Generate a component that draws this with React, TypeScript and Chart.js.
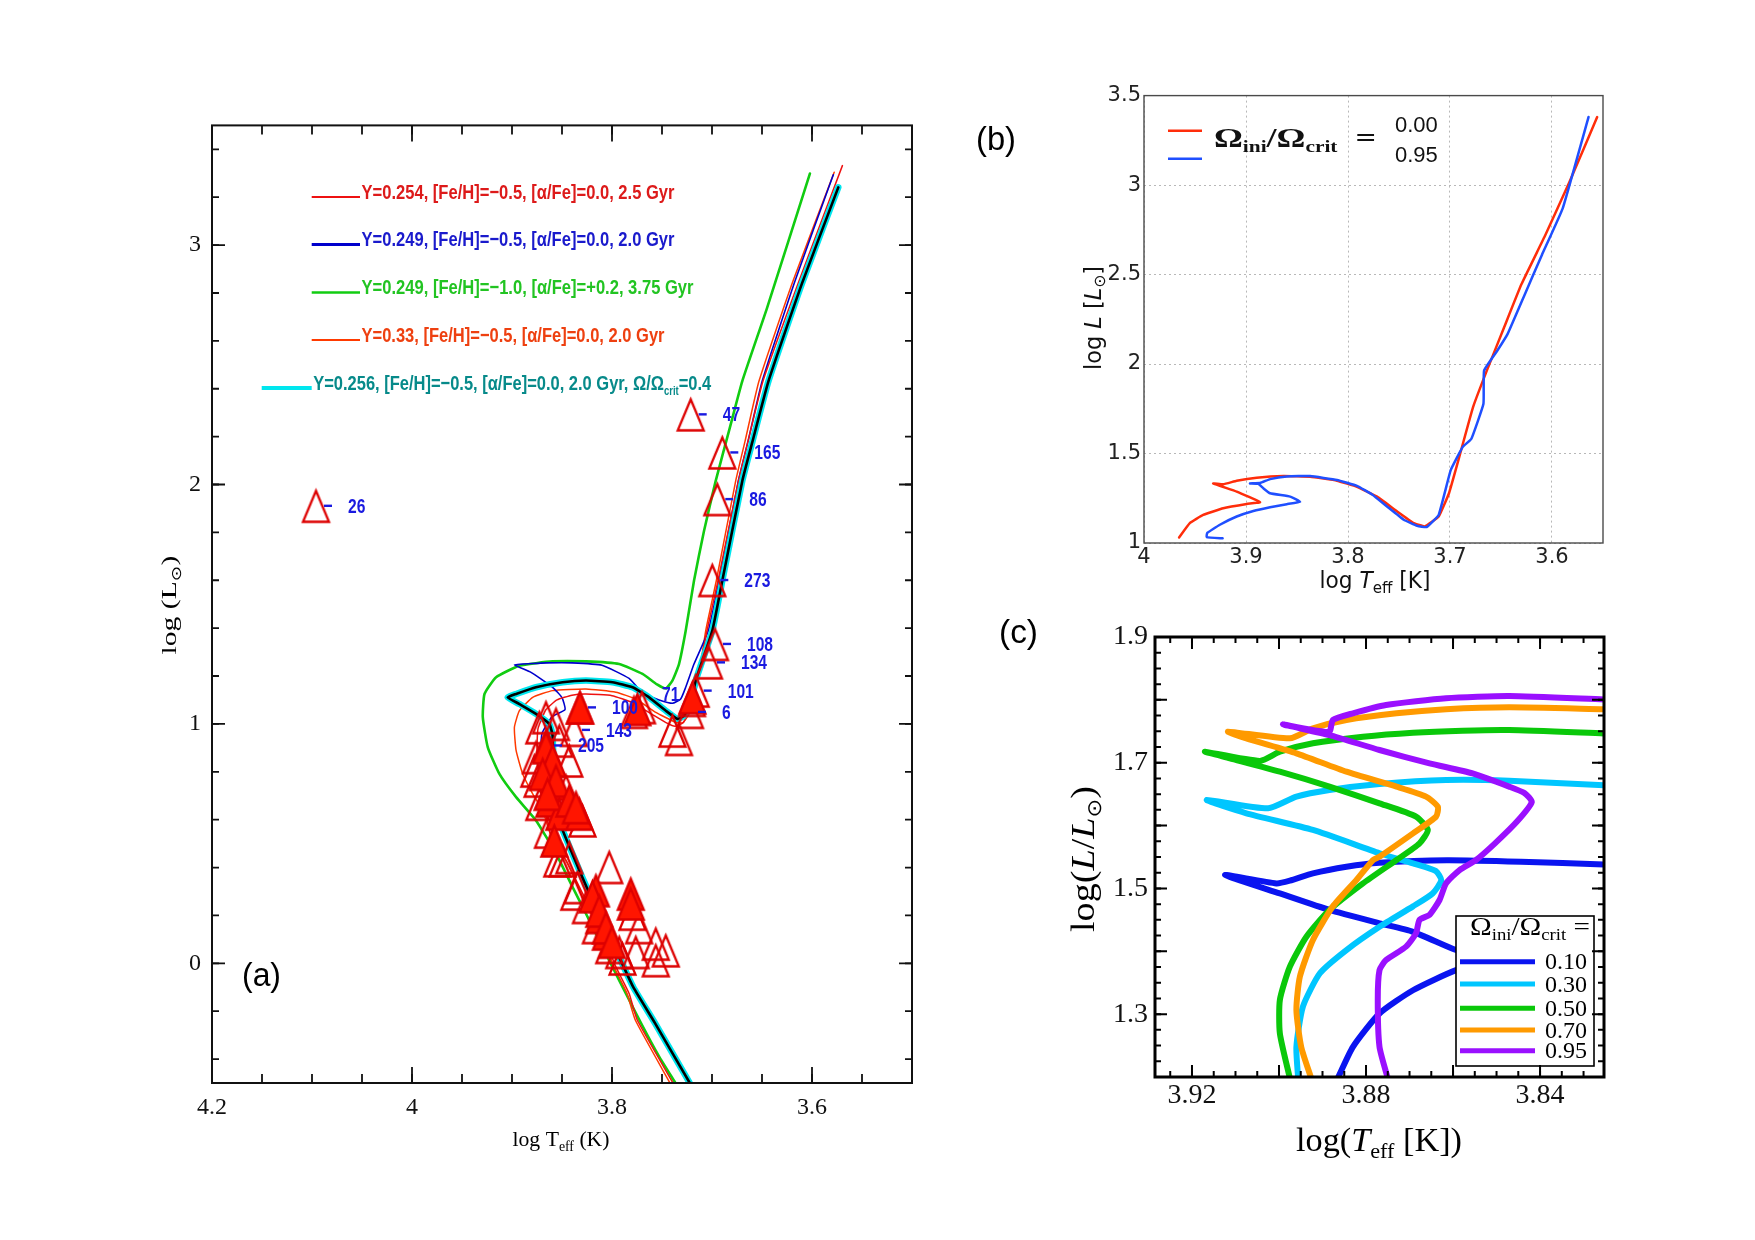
import React, { useEffect, useRef } from 'react';
import { Chart, registerables } from 'chart.js';

Chart.register(...registerables);

/* ======================= Panel (a) data ======================= */
const aXTicks = [4.2, 4.0, 3.8, 3.6];
const aXTickLabels = ['4.2', '4', '3.8', '3.6'];
const aYTicks = [0, 1, 2, 3];
const aYTickLabels = ['0', '1', '2', '3'];

const aLegend = [
  'Y=0.254, [Fe/H]=−0.5, [α/Fe]=0.0, 2.5 Gyr',
  'Y=0.249, [Fe/H]=−0.5, [α/Fe]=0.0, 2.0 Gyr',
  'Y=0.249, [Fe/H]=−1.0, [α/Fe]=+0.2, 3.75 Gyr',
  'Y=0.33, [Fe/H]=−0.5, [α/Fe]=0.0, 2.0 Gyr',
  'Y=0.256, [Fe/H]=−0.5, [α/Fe]=0.0, 2.0 Gyr, Ω/Ω',
];

// Y=0.254, 2.5 Gyr (red)
const aRedT = [3.739, 3.7746, 3.7829, 3.7961, 3.8095, 3.826, 3.846, 3.8594, 3.866, 3.872, 3.875, 3.874, 3.866, 3.855, 3.84, 3.826, 3.80, 3.78, 3.76, 3.745, 3.737, 3.729, 3.722, 3.715, 3.705, 3.694, 3.6735, 3.664, 3.649, 3.613, 3.5696];
const aRedL = [-0.5, -0.238, -0.126, -0.015, 0.124, 0.263, 0.43, 0.513, 0.62, 0.75, 0.88, 0.98, 1.06, 1.10, 1.12, 1.125, 1.118, 1.09, 1.04, 1.003, 0.99, 1.005, 1.06, 1.17, 1.389, 1.598, 2.015, 2.18, 2.432, 2.85, 3.332];
// Y=0.249, 2.0 Gyr (blue)
const aBlueT = [3.724, 3.757, 3.795, 3.822, 3.842, 3.857, 3.866, 3.871, 3.870, 3.86, 3.847, 3.850, 3.8594, 3.881, 3.8976, 3.88, 3.866, 3.84, 3.81, 3.7829, 3.7729, 3.7629, 3.7529, 3.7396, 3.7313, 3.7263, 3.718, 3.7037, 3.693, 3.6737, 3.664, 3.6498, 3.617, 3.5787];
const aBlueL = [-0.5, -0.24, 0.026, 0.263, 0.471, 0.61, 0.75, 0.88, 0.96, 1.03, 1.06, 1.11, 1.153, 1.215, 1.247, 1.252, 1.255, 1.255, 1.245, 1.19, 1.145, 1.118, 1.1, 1.086, 1.104, 1.153, 1.25, 1.389, 1.598, 2.015, 2.18, 2.432, 2.85, 3.294];
// Y=0.249, [Fe/H]=-1.0, 3.75 Gyr (green)
const aGreenT = [3.737, 3.753, 3.771, 3.7928, 3.8095, 3.826, 3.8394, 3.856, 3.876, 3.8959, 3.9126, 3.9242, 3.9292, 3.9275, 3.9159, 3.8926, 3.8594, 3.826, 3.7928, 3.7695, 3.755, 3.746, 3.7396, 3.733, 3.7263, 3.718, 3.708, 3.6963, 3.683, 3.6697, 3.645, 3.6021];
const aGreenL = [-0.497, -0.389, -0.25, -0.071, 0.068, 0.207, 0.318, 0.458, 0.597, 0.694, 0.791, 0.902, 1.028, 1.125, 1.195, 1.243, 1.261, 1.261, 1.25, 1.209, 1.165, 1.148, 1.181, 1.25, 1.389, 1.598, 1.806, 2.015, 2.224, 2.432, 2.737, 3.299];
// Y=0.33, 2.0 Gyr (orange-red)
const aOrangeT = [3.742, 3.7766, 3.785, 3.798, 3.811, 3.828, 3.846, 3.8594, 3.8693, 3.8793, 3.8893, 3.8959, 3.8976, 3.8926, 3.8793, 3.8594, 3.826, 3.7961, 3.7762, 3.7562, 3.7363, 3.729, 3.722, 3.714, 3.7063, 3.6957, 3.6763, 3.667, 3.653, 3.619, 3.5778];
const aOrangeL = [-0.5, -0.238, -0.126, -0.015, 0.124, 0.263, 0.43, 0.513, 0.638, 0.708, 0.791, 0.889, 0.986, 1.055, 1.111, 1.139, 1.146, 1.132, 1.104, 1.048, 1.007, 1.005, 1.05, 1.18, 1.389, 1.598, 2.015, 2.18, 2.432, 2.85, 3.304];
// Y=0.256, rotating Ω/Ωcrit=0.4 (black on cyan)
const aRotT = [3.7225, 3.757, 3.7787, 3.7928, 3.8085, 3.8195, 3.8298, 3.841, 3.8505, 3.8555, 3.858, 3.8594, 3.8627, 3.876, 3.8926, 3.9043, 3.8959, 3.876, 3.8494, 3.826, 3.7995, 3.7795, 3.7629, 3.7462, 3.7346, 3.7279, 3.7213, 3.7163, 3.6997, 3.6897, 3.6697, 3.6595, 3.6435, 3.61, 3.5737];
const aRotL = [-0.498, -0.25, -0.1, 0.026, 0.166, 0.263, 0.36, 0.471, 0.569, 0.65, 0.75, 0.951, 1.0, 1.042, 1.083, 1.111, 1.125, 1.153, 1.174, 1.181, 1.174, 1.153, 1.111, 1.055, 1.021, 1.035, 1.083, 1.181, 1.389, 1.598, 2.015, 2.18, 2.432, 2.84, 3.241];

// observed stars: open triangles
const aOpenT = [3.8777, 3.8427, 3.8727, 3.8295, 3.8427, 3.8028, 3.8344, 3.826, 3.7795, 3.8161, 3.7729, 3.8028, 3.7928, 3.7562, 3.7462, 3.7562, 3.7762, 3.7895, 3.866, 3.856, 3.8727, 3.8527, 3.876, 3.8744, 3.846, 3.778, 3.770, 3.7396, 3.733, 3.72, 3.8494, 3.8377, 3.864, 3.8547];
const aOpenL = [0.805, 0.847, 0.666, 0.597, 0.443, 0.402, 0.318, 0.235, 0.207, 0.151, 0.151, 0.068, 0.047, 0.082, 0.054, 0.013, 0.047, 0.020, 1.028, 1.0, 0.986, 0.93, 0.861, 0.763, 0.722, 1.05, 1.07, 0.972, 0.937, 1.10, 0.43, 0.291, 0.55, 0.43];
// filled triangles
const aFillT = [3.866, 3.8594, 3.8627, 3.8394, 3.8527, 3.8327, 3.8577, 3.8161, 3.7812, 3.8128, 3.8061, 3.866, 3.8594, 3.8693, 3.856, 3.8644, 3.8427, 3.836, 3.832, 3.7746, 3.7196, 3.8195, 3.8128, 3.806, 3.80, 3.7812];
const aFillL = [0.819, 0.75, 0.68, 0.638, 0.625, 0.625, 0.513, 0.305, 0.291, 0.193, 0.124, 0.902, 0.847, 0.791, 0.763, 0.708, 0.68, 0.652, 1.069, 1.062, 1.111, 0.28, 0.22, 0.15, 0.09, 0.25];
// labelled stars
const aLabT = [3.7213, 3.6897, 3.6947, 3.6997, 3.697, 3.703, 3.7163, 3.722, 3.832, 3.838, 3.866, 4.096];
const aLabL = [2.293, 2.134, 1.939, 1.601, 1.334, 1.257, 1.139, 1.05, 1.069, 0.975, 0.91, 1.911];
const aLabNames = ['47', '165', '86', '273', '108', '134', '101', '6', '100', '143', '205', '26'];
const aNoteT = [3.7499];
const aNoteL = [1.126];
const aNoteNames = ['71'];

/* ======================= Panel (b) data ======================= */
const bXTicks = [4.0, 3.9, 3.8, 3.7, 3.6];
const bXTickLabels = ['4', '3.9', '3.8', '3.7', '3.6'];
const bYTicks = [1, 1.5, 2, 2.5, 3, 3.5];
const bYTickLabels = ['1', '1.5', '2', '2.5', '3', '3.5'];
const bLabels = ['0.00', '0.95'];
const bRedT = [3.9656, 3.9551, 3.942, 3.9223, 3.8993, 3.8862, 3.9091, 3.9322, 3.9223, 3.9091, 3.8895, 3.8633, 3.8371, 3.8108, 3.7912, 3.7715, 3.7518, 3.7355, 3.7247, 3.7111, 3.701, 3.6909, 3.6774, 3.6639, 3.647, 3.6301, 3.6064, 3.5828, 3.5557];
const bRedL = [1.031, 1.111, 1.157, 1.194, 1.218, 1.228, 1.287, 1.333, 1.328, 1.348, 1.365, 1.374, 1.370, 1.348, 1.314, 1.259, 1.176, 1.111, 1.093, 1.148, 1.278, 1.481, 1.759, 1.963, 2.204, 2.444, 2.722, 3.019, 3.380];
const bBlueT = [3.9229, 3.9386, 3.938, 3.9256, 3.9091, 3.8928, 3.8764, 3.86, 3.8469, 3.8567, 3.8764, 3.883, 3.8879, 3.8961, 3.8862, 3.8764, 3.86, 3.8371, 3.8108, 3.7912, 3.776, 3.7617, 3.7453, 3.7322, 3.723, 3.7111, 3.6993, 3.6875, 3.679, 3.6672, 3.6666, 3.6537, 3.6436, 3.6267, 3.6098, 3.5895, 3.5642];
const bBlueL = [1.026, 1.033, 1.056, 1.102, 1.148, 1.179, 1.200, 1.217, 1.231, 1.259, 1.278, 1.306, 1.330, 1.333, 1.335, 1.357, 1.372, 1.374, 1.352, 1.319, 1.27, 1.204, 1.130, 1.096, 1.089, 1.157, 1.407, 1.537, 1.583, 1.778, 1.963, 2.074, 2.167, 2.389, 2.611, 2.870, 3.380];

/* ======================= Panel (c) data ======================= */
const cXTicks = [3.92, 3.88, 3.84];
const cXTickLabels = ['3.92', '3.88', '3.84'];
const cYTicks = [1.3, 1.5, 1.7, 1.9];
const cYTickLabels = ['1.3', '1.5', '1.7', '1.9'];
const cLabels = ['0.10', '0.30', '0.50', '0.70', '0.95'];
const c010T = [3.8865, 3.8830, 3.8769, 3.8692, 3.8593, 3.851, 3.8593, 3.8692, 3.8769, 3.8884, 3.8998, 3.9124, 3.9006, 3.8975, 3.8922, 3.8845, 3.8769, 3.8614, 3.8444, 3.8253];
const c010L = [1.198, 1.248, 1.301, 1.338, 1.370, 1.385, 1.402, 1.431, 1.4445, 1.4657, 1.492, 1.5214, 1.508, 1.5123, 1.524, 1.5346, 1.541, 1.545, 1.5426, 1.538];
const c030T = [3.8956, 3.8960, 3.8945, 3.8906, 3.8845, 3.8769, 3.8692, 3.8647, 3.8627, 3.864, 3.8692, 3.8769, 3.8922, 3.9075, 3.9166, 3.9025, 3.896, 3.8884, 3.8769, 3.8616, 3.8471, 3.8253];
const c030L = [1.198, 1.248, 1.312, 1.365, 1.402, 1.439, 1.4715, 1.492, 1.513, 1.528, 1.540, 1.556, 1.593, 1.6195, 1.6407, 1.6274, 1.646, 1.6566, 1.6661, 1.6725, 1.6714, 1.664];
const c050T = [3.8975, 3.8998, 3.8998, 3.8975, 3.8937, 3.8884, 3.8807, 3.873, 3.8677, 3.8658, 3.8685, 3.8769, 3.8884, 3.8998, 3.9113, 3.917, 3.9044, 3.8998, 3.8922, 3.8807, 3.8692, 3.8578, 3.8471, 3.8253];
const c050L = [1.198, 1.2695, 1.3225, 1.3755, 1.4232, 1.4657, 1.508, 1.5452, 1.5718, 1.593, 1.6142, 1.6354, 1.6619, 1.6857, 1.707, 1.7175, 1.7029, 1.7175, 1.7309, 1.7414, 1.7478, 1.751, 1.752, 1.7466];
const c070T = [3.8926, 3.8949, 3.896, 3.8952, 3.8922, 3.8876, 3.8822, 3.8784, 3.8769, 3.8692, 3.8639, 3.8635, 3.8662, 3.873, 3.8845, 3.896, 3.9075, 3.9117, 3.8975, 3.8922, 3.8845, 3.873, 3.8616, 3.8471, 3.8253];
const c070L = [1.198, 1.248, 1.3066, 1.3596, 1.418, 1.4715, 1.5134, 1.5452, 1.5505, 1.5876, 1.6142, 1.630, 1.646, 1.6619, 1.6857, 1.715, 1.7388, 1.7494, 1.7388, 1.7547, 1.768, 1.7786, 1.785, 1.7881, 1.7852];
const c095T = [3.875, 3.8769, 3.8773, 3.8769, 3.8754, 3.8708, 3.8685, 3.8677, 3.8654, 3.8631, 3.8616, 3.8585, 3.8547, 3.8503, 3.8453, 3.8419, 3.8436, 3.8471, 3.8555, 3.8654, 3.8769, 3.8884, 3.8991, 3.8885, 3.8876, 3.883, 3.8754, 3.8616, 3.8471, 3.8253];
const c095L = [1.198, 1.248, 1.3225, 1.370, 1.386, 1.4074, 1.4287, 1.45, 1.458, 1.4816, 1.508, 1.5293, 1.5452, 1.572, 1.6063, 1.6375, 1.6517, 1.662, 1.683, 1.699, 1.7202, 1.744, 1.761, 1.749, 1.768, 1.7786, 1.7918, 1.8025, 1.806, 1.8006];

/* ======================= helpers ======================= */
const pts = (T: number[], L: number[]) => T.map((t, i) => ({ x: t, y: L[i] }));

function range(a: number, b: number, s: number): number[] {
  const out: number[] = [];
  const n = Math.round((b - a) / s);
  for (let i = 0; i <= n; i++) out.push(+(a + i * s).toFixed(4));
  return out;
}

type Seg = { t: string; f: string; dy?: number };

function richWidth(ctx: CanvasRenderingContext2D, segs: Seg[]) {
  let w = 0;
  for (const s of segs) {
    ctx.font = s.f;
    w += ctx.measureText(s.t).width;
  }
  return w;
}

function drawRich(ctx: CanvasRenderingContext2D, segs: Seg[], x: number, y: number, o: any = {}) {
  ctx.save();
  ctx.translate(x, y);
  if (o.rot) ctx.rotate(o.rot);
  const w = richWidth(ctx, segs);
  const sx = o.width ? o.width / w : o.sx || 1;
  ctx.scale(sx, 1);
  let cx = o.align === 'center' ? -w / 2 : 0;
  ctx.fillStyle = o.color || '#000';
  ctx.textAlign = 'left';
  ctx.textBaseline = 'alphabetic';
  for (const s of segs) {
    ctx.font = s.f;
    ctx.fillText(s.t, cx, s.dy || 0);
    cx += ctx.measureText(s.t).width;
  }
  ctx.restore();
}

function inwardTicks(ctx: CanvasRenderingContext2D, ca: any, xs: any, ys: any, xv: number[], yv: number[], len: number) {
  ctx.beginPath();
  for (const v of xv) {
    const p = xs.getPixelForValue(v);
    if (p <= ca.left + 1 || p >= ca.right - 1) continue;
    ctx.moveTo(p, ca.bottom);
    ctx.lineTo(p, ca.bottom - len);
    ctx.moveTo(p, ca.top);
    ctx.lineTo(p, ca.top + len);
  }
  for (const v of yv) {
    const p = ys.getPixelForValue(v);
    if (p <= ca.top + 1 || p >= ca.bottom - 1) continue;
    ctx.moveTo(ca.left, p);
    ctx.lineTo(ca.left + len, p);
    ctx.moveTo(ca.right, p);
    ctx.lineTo(ca.right - len, p);
  }
  ctx.stroke();
}

function makeTri(filled: boolean): HTMLCanvasElement {
  const w = 31, h = 37;
  const c = document.createElement('canvas');
  c.width = w;
  c.height = h;
  const g = c.getContext('2d') as CanvasRenderingContext2D;
  g.beginPath();
  g.moveTo(w / 2, 3.5);
  g.lineTo(w - 2.5, h - 2.5);
  g.lineTo(2.5, h - 2.5);
  g.closePath();
  if (filled) {
    g.fillStyle = '#ff1500';
    g.fill();
  }
  g.lineWidth = 2.3;
  g.strokeStyle = '#dd0000';
  g.stroke();
  return c;
}

function padFor(W: number, H: number, OX: number, OY: number, area: any, yW: number, xH: number) {
  return {
    left: area.l - OX - yW,
    top: area.t - OY,
    right: W - (area.r - OX),
    bottom: H - (area.b - OY) - xH,
  };
}

const lineDs = (T: number[], L: number[], color: string, width: number, order: number, tension = 0.15) => ({
  data: pts(T, L),
  showLine: true,
  borderColor: color,
  backgroundColor: color,
  borderWidth: width,
  pointRadius: 0,
  tension,
  fill: false,
  order,
  borderCapStyle: 'round',
  borderJoinStyle: 'round',
});

/* ======================= Panel (a) ======================= */
function buildA(): any {
  const OX = 120, OY = 100, W = 840, H = 1080;
  const area = { l: 212, t: 123, r: 912, b: 1083 };
  const triOpen = makeTri(false);
  const triFill = makeTri(true);
  const serif = '"Liberation Serif", "DejaVu Serif", serif';
  const lblFont = 'bold 21px "Liberation Sans Narrow", "Liberation Sans", sans-serif';
  const legendColors = ['#dd1a1a', '#1a1acc', '#22c422', '#ee4010', '#078a8a'];
  const legendLineColors = ['#ee1111', '#0000cc', '#11cc11', '#ff3a00', '#00e6ee'];
  const legendLineW = [2, 3, 2.5, 2, 4];
  const legendBase = [198.5, 246, 294, 341.5, 389.5];
  const legendWidth = [313, 313, 332, 303, 398];

  const deco = {
    id: 'decoA',
    afterDraw(chart: any) {
      const { ctx, chartArea: ca } = chart;
      const xs = chart.scales.x, ys = chart.scales.y;
      ctx.save();
      ctx.strokeStyle = '#111';
      ctx.lineWidth = 2;
      ctx.strokeRect(ca.left, ca.top, ca.right - ca.left, ca.bottom - ca.top);
      ctx.lineWidth = 1.8;
      inwardTicks(ctx, ca, xs, ys, range(3.5, 4.2, 0.05), [], 9);
      inwardTicks(ctx, ca, xs, ys, aXTicks, [], 16);
      inwardTicks(ctx, ca, xs, ys, [], range(-0.4, 3.4, 0.2), 7);
      inwardTicks(ctx, ca, xs, ys, [], aYTicks, 13);

      // labels of the numbered stars
      ctx.strokeStyle = '#1a1ae0';
      ctx.lineWidth = 2.4;
      const nf = 'bold 20px "Liberation Sans Narrow", "Liberation Sans", sans-serif';
      for (let i = 0; i < aLabT.length; i++) {
        const px = xs.getPixelForValue(aLabT[i]);
        const py = ys.getPixelForValue(aLabL[i]);
        ctx.beginPath();
        ctx.moveTo(px + 8, py);
        ctx.lineTo(px + 16, py);
        ctx.stroke();
        drawRich(ctx, [{ t: aLabNames[i], f: nf }], px + 32, py + 7, { sx: 0.78, color: '#1a1ae0' });
      }
      for (let i = 0; i < aNoteT.length; i++) {
        const px = xs.getPixelForValue(aNoteT[i]);
        const py = ys.getPixelForValue(aNoteL[i]);
        drawRich(ctx, [{ t: aNoteNames[i], f: nf }], px, py + 7, { sx: 0.78, color: '#1a1ae0' });
      }

      ctx.translate(-OX, -OY);
      // legend
      for (let i = 0; i < aLegend.length; i++) {
        const last = i === aLegend.length - 1;
        const lx0 = last ? 261.7 : 311.7;
        const lx1 = last ? 311.7 : 360;
        ctx.beginPath();
        ctx.strokeStyle = legendLineColors[i];
        ctx.lineWidth = legendLineW[i];
        ctx.moveTo(lx0, legendBase[i] - 1.5);
        ctx.lineTo(lx1, legendBase[i] - 1.5);
        ctx.stroke();
        const segs: Seg[] = last
          ? [
              { t: aLegend[i], f: lblFont },
              { t: 'crit', f: 'bold 12px "Liberation Sans Narrow", "Liberation Sans", sans-serif', dy: 5 },
              { t: '=0.4', f: lblFont },
            ]
          : [{ t: aLegend[i], f: lblFont }];
        drawRich(ctx, segs, lx1 + 1.5, legendBase[i], { width: legendWidth[i], color: legendColors[i] });
      }
      // axis titles
      drawRich(
        ctx,
        [
          { t: 'log T', f: `22px ${serif}` },
          { t: 'eff', f: `14px ${serif}`, dy: 5 },
          { t: ' (K)', f: `22px ${serif}` },
        ],
        561, 1146, { align: 'center', width: 97 }
      );
      drawRich(
        ctx,
        [
          { t: 'log (L', f: `22px ${serif}` },
          { t: '⊙', f: `14px "DejaVu Sans", sans-serif`, dy: 5 },
          { t: ')', f: `22px ${serif}` },
        ],
        176, 605, { align: 'center', width: 99, rot: -Math.PI / 2 }
      );
      drawRich(ctx, [{ t: '(a)', f: '34px "Liberation Sans", "Open Sans", sans-serif' }], 242, 986, { width: 39 });
      ctx.restore();
    },
  };

  return {
    type: 'scatter',
    data: {
      datasets: [
        { data: pts(aFillT, aFillL), pointStyle: triFill, pointRadius: 15, showLine: false, order: 0 },
        { data: pts(aLabT, aLabL), pointStyle: triOpen, pointRadius: 15, showLine: false, order: 1 },
        { data: pts(aOpenT, aOpenL), pointStyle: triOpen, pointRadius: 15, showLine: false, order: 2 },
        lineDs(aRotT, aRotL, '#000000', 2.6, 3),
        lineDs(aRotT, aRotL, '#00e6ee', 6.5, 4),
        lineDs(aRedT, aRedL, '#ee1111', 1.5, 5),
        lineDs(aBlueT, aBlueL, '#0000cc', 1.6, 6),
        lineDs(aOrangeT, aOrangeL, '#ff3a00', 1.5, 7),
        lineDs(aGreenT, aGreenL, '#11cc11', 2.6, 8),
      ],
    },
    options: {
      responsive: false,
      animation: false,
      events: [],
      layout: { padding: padFor(W, H, OX, OY, area, 60, 50) },
      plugins: { legend: { display: false }, tooltip: { enabled: false }, title: { display: false } },
      scales: {
        x: {
          type: 'linear', min: 3.5, max: 4.2, reverse: true,
          afterBuildTicks: (ax: any) => { ax.ticks = aXTicks.map((v) => ({ value: v })); },
          afterFit: (ax: any) => { ax.height = 50; },
          ticks: { autoSkip: false, maxRotation: 0, padding: 10, color: '#111', font: { family: serif, size: 24 }, callback: (_v: any, i: number) => aXTickLabels[i] },
          grid: { display: false, drawTicks: false },
          border: { display: false },
        },
        y: {
          type: 'linear', min: -0.5, max: 3.5,
          afterBuildTicks: (ax: any) => { ax.ticks = aYTicks.map((v) => ({ value: v })); },
          afterFit: (ax: any) => { ax.width = 60; },
          ticks: { autoSkip: false, padding: 11, color: '#111', font: { family: serif, size: 24 }, callback: (_v: any, i: number) => aYTickLabels[i] },
          grid: { display: false, drawTicks: false },
          border: { display: false },
        },
      },
    },
    plugins: [deco],
  };
}

/* ======================= Panel (b) ======================= */
function buildB(): any {
  const OX = 960, OY = 80, W = 680, H = 520;
  const area = { l: 1144, t: 93, r: 1603, b: 543 };
  const sans = '"DejaVu Sans", "Liberation Sans", sans-serif';
  const cols = ['#ff2d0a', '#1f4fff'];
  const deco = {
    id: 'decoB',
    afterDraw(chart: any) {
      const { ctx, chartArea: ca } = chart;
      ctx.save();
      ctx.strokeStyle = '#4a4a4a';
      ctx.lineWidth = 1.4;
      ctx.strokeRect(ca.left, ca.top, ca.right - ca.left, ca.bottom - ca.top);
      ctx.translate(-OX, -OY);
      // legend
      const ly = [130.7, 158.7];
      for (let i = 0; i < 2; i++) {
        ctx.beginPath();
        ctx.strokeStyle = cols[i];
        ctx.lineWidth = 2.5;
        ctx.moveTo(1168, ly[i]);
        ctx.lineTo(1202, ly[i]);
        ctx.stroke();
      }
      const bs = 'bold 27px "Liberation Serif", "DejaVu Serif", serif';
      const bsub = 'bold 16px "Liberation Serif", "DejaVu Serif", serif';
      drawRich(ctx, [
        { t: 'Ω', f: bs }, { t: 'ini', f: bsub, dy: 5 }, { t: '/Ω', f: bs }, { t: 'crit', f: bsub, dy: 5 }, { t: '  =', f: bs },
      ], 1214, 147, { width: 162, color: '#111' });
      drawRich(ctx, [{ t: bLabels[0], f: '22px "Liberation Sans", sans-serif' }], 1395, 132, { color: '#111' });
      drawRich(ctx, [{ t: bLabels[1], f: '22px "Liberation Sans", sans-serif' }], 1395, 162, { color: '#111' });
      // axis titles
      drawRich(ctx, [
        { t: 'log ', f: `23px ${sans}` },
        { t: 'T', f: `italic 23px ${sans}` },
        { t: 'eff', f: `16px ${sans}`, dy: 5 },
        { t: ' [K]', f: `23px ${sans}` },
      ], 1375, 588, { align: 'center', width: 111, color: '#111' });
      drawRich(ctx, [
        { t: 'log ', f: `23px ${sans}` },
        { t: 'L', f: `italic 23px ${sans}` },
        { t: ' [', f: `23px ${sans}` },
        { t: 'L', f: `italic 23px ${sans}` },
        { t: '⊙', f: `16px ${sans}`, dy: 4 },
        { t: ']', f: `23px ${sans}` },
      ], 1101, 318, { align: 'center', width: 104, rot: -Math.PI / 2, color: '#111' });
      drawRich(ctx, [{ t: '(b)', f: '34px "Liberation Sans", "Open Sans", sans-serif' }], 976, 150, { width: 40 });
      ctx.restore();
    },
  };
  return {
    type: 'scatter',
    data: {
      datasets: [
        lineDs(bBlueT, bBlueL, cols[1], 2.5, 0, 0.1),
        lineDs(bRedT, bRedL, cols[0], 2.5, 1, 0.1),
      ],
    },
    options: {
      responsive: false,
      animation: false,
      events: [],
      layout: { padding: padFor(W, H, OX, OY, area, 50, 40) },
      plugins: { legend: { display: false }, tooltip: { enabled: false } },
      scales: {
        x: {
          type: 'linear', min: 3.55, max: 4.0, reverse: true,
          afterBuildTicks: (ax: any) => { ax.ticks = bXTicks.map((v) => ({ value: v })); },
          afterFit: (ax: any) => { ax.height = 40; },
          ticks: { autoSkip: false, maxRotation: 0, padding: 2, color: '#222', font: { family: sans, size: 21 }, callback: (_v: any, i: number) => bXTickLabels[i] },
          grid: { color: '#b8b8b8', lineWidth: 1, drawTicks: false },
          border: { display: false, dash: [2, 3] },
        },
        y: {
          type: 'linear', min: 1, max: 3.5,
          afterBuildTicks: (ax: any) => { ax.ticks = bYTicks.map((v) => ({ value: v })); },
          afterFit: (ax: any) => { ax.width = 50; },
          ticks: { autoSkip: false, padding: 3, color: '#222', font: { family: sans, size: 21 }, callback: (_v: any, i: number) => bYTickLabels[i] },
          grid: { color: '#b8b8b8', lineWidth: 1, drawTicks: false },
          border: { display: false, dash: [2, 3] },
        },
      },
    },
    plugins: [deco],
  };
}

/* ======================= Panel (c) ======================= */
function buildC(): any {
  const OX = 980, OY = 600, W = 680, H = 620;
  const area = { l: 1155, t: 637, r: 1604, b: 1077 };
  const serif = '"Liberation Serif", "DejaVu Serif", serif';
  const cols = ['#0a14f0', '#00c6ff', '#0ac80a', '#ff9a00', '#9a10ff'];
  const deco = {
    id: 'decoC',
    afterDraw(chart: any) {
      const { ctx, chartArea: ca } = chart;
      const xs = chart.scales.x, ys = chart.scales.y;
      ctx.save();
      ctx.translate(-OX, -OY);
      // legend box
      ctx.fillStyle = '#fff';
      ctx.fillRect(1456, 916, 138, 150);
      ctx.strokeStyle = '#000';
      ctx.lineWidth = 1.6;
      ctx.strokeRect(1456, 916, 138, 150);
      drawRich(ctx, [
        { t: 'Ω', f: `25px ${serif}` }, { t: 'ini', f: `16px ${serif}`, dy: 5 }, { t: '/Ω', f: `25px ${serif}` }, { t: 'crit', f: `16px ${serif}`, dy: 5 }, { t: ' =', f: `25px ${serif}` },
      ], 1470, 935, { width: 120 });
      const ry = [961.7, 984, 1008.3, 1030, 1050.7];
      for (let i = 0; i < cLabels.length; i++) {
        ctx.beginPath();
        ctx.strokeStyle = cols[i];
        ctx.lineWidth = 5;
        ctx.moveTo(1460, ry[i]);
        ctx.lineTo(1535, ry[i]);
        ctx.stroke();
        drawRich(ctx, [{ t: cLabels[i], f: `24px ${serif}` }], 1545, ry[i] + 7.5, { width: 42 });
      }
      ctx.restore();
      ctx.save();
      ctx.strokeStyle = '#000';
      ctx.lineWidth = 3;
      ctx.strokeRect(ca.left, ca.top, ca.right - ca.left, ca.bottom - ca.top);
      ctx.lineWidth = 2;
      inwardTicks(ctx, ca, xs, ys, range(3.83, 3.925, 0.005), range(1.2, 1.9, 0.025), 6);
      inwardTicks(ctx, ca, xs, ys, range(3.84, 3.92, 0.02), range(1.3, 1.8, 0.1), 12);
      ctx.translate(-OX, -OY);
      drawRich(ctx, [
        { t: 'log(', f: `34px ${serif}` },
        { t: 'T', f: `italic 34px ${serif}` },
        { t: 'eff', f: `22px ${serif}`, dy: 7 },
        { t: ' [K])', f: `34px ${serif}` },
      ], 1379, 1151, { align: 'center', width: 166 });
      drawRich(ctx, [
        { t: 'log(', f: `34px ${serif}` },
        { t: 'L', f: `italic 34px ${serif}` },
        { t: '/', f: `34px ${serif}` },
        { t: 'L', f: `italic 34px ${serif}` },
        { t: '⊙', f: `20px "DejaVu Sans", sans-serif`, dy: 7 },
        { t: ')', f: `34px ${serif}` },
      ], 1094, 859, { align: 'center', width: 146, rot: -Math.PI / 2 });
      drawRich(ctx, [{ t: '(c)', f: '34px "Liberation Sans", "Open Sans", sans-serif' }], 999, 643, { width: 39 });
      ctx.restore();
    },
  };
  return {
    type: 'scatter',
    data: {
      datasets: [
        lineDs(c095T, c095L, cols[4], 6, 0, 0.2),
        lineDs(c070T, c070L, cols[3], 6, 1, 0.2),
        lineDs(c050T, c050L, cols[2], 6, 2, 0.2),
        lineDs(c030T, c030L, cols[1], 6, 3, 0.2),
        lineDs(c010T, c010L, cols[0], 6, 4, 0.2),
      ],
    },
    options: {
      responsive: false,
      animation: false,
      events: [],
      layout: { padding: padFor(W, H, OX, OY, area, 60, 40) },
      plugins: { legend: { display: false }, tooltip: { enabled: false } },
      scales: {
        x: {
          type: 'linear', min: 3.8253, max: 3.9285, reverse: true,
          afterBuildTicks: (ax: any) => { ax.ticks = cXTicks.map((v) => ({ value: v })); },
          afterFit: (ax: any) => { ax.height = 40; },
          ticks: { autoSkip: false, maxRotation: 0, padding: 2, color: '#111', font: { family: serif, size: 28 }, callback: (_v: any, i: number) => cXTickLabels[i] },
          grid: { display: false, drawTicks: false },
          border: { display: false },
        },
        y: {
          type: 'linear', min: 1.2, max: 1.9,
          afterBuildTicks: (ax: any) => { ax.ticks = cYTicks.map((v) => ({ value: v })); },
          afterFit: (ax: any) => { ax.width = 60; },
          ticks: { autoSkip: false, padding: 7, color: '#111', font: { family: serif, size: 28 }, callback: (_v: any, i: number) => cYTickLabels[i] },
          grid: { display: false, drawTicks: false },
          border: { display: false },
        },
      },
    },
    plugins: [deco],
  };
}

/* ======================= components ======================= */
function ChartBox({ left, top, width, height, build }: { left: number; top: number; width: number; height: number; build: () => any }) {
  const ref = useRef<HTMLCanvasElement>(null);
  useEffect(() => {
    const chart = new Chart(ref.current as HTMLCanvasElement, build());
    return () => chart.destroy();
  }, []);
  return (
    <canvas
      ref={ref}
      width={width}
      height={height}
      style={{ position: 'absolute', left, top, width, height }}
    />
  );
}

export default function App() {
  return (
    <div style={{ position: 'absolute', left: 0, top: 0, width: 1755, height: 1240, background: '#ffffff', overflow: 'hidden' }}>
      <ChartBox left={120} top={100} width={840} height={1080} build={buildA} />
      <ChartBox left={960} top={80} width={680} height={520} build={buildB} />
      <ChartBox left={980} top={600} width={680} height={620} build={buildC} />
    </div>
  );
}
